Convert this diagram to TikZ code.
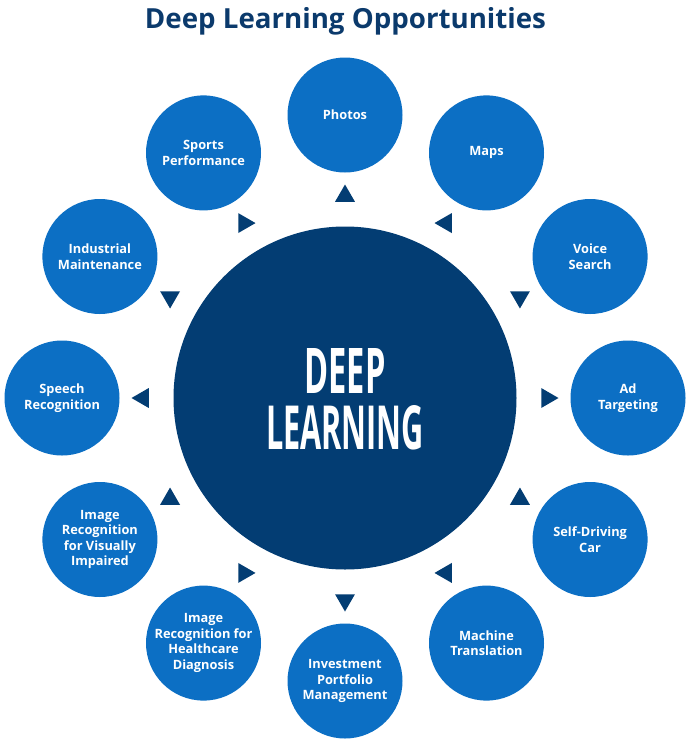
\documentclass[tikz,border=0pt]{standalone}
\usepackage{fontspec}
\setmainfont{Open Sans}
\usetikzlibrary{shapes.geometric}
\definecolor{brightblue}{HTML}{0C6FC4}
\definecolor{navy}{HTML}{033D73}
\definecolor{titleblue}{HTML}{0B3A6C}
\tikzset{
  outer/.style={circle, fill=brightblue, minimum size=115pt, inner sep=0pt, align=center,
    text=white, font=\fontsize{12.8}{15.5}\selectfont\bfseries},
  core/.style={circle, fill=navy, minimum size=343pt, inner sep=0pt},
  tri/.style={regular polygon, regular polygon sides=3, fill=navy, minimum size=23pt, inner sep=0pt, outer sep=0pt},
  bigword/.style={text=white, inner sep=0pt, anchor=base, font=\bfseries},
}
\begin{document}
\begin{tikzpicture}[x=1pt,y=-1pt]
\useasboundingbox (0,0) rectangle (691,742);
\fill[white] (0,0) rectangle (691,742);
\node[text=titleblue, inner sep=0pt, anchor=base] (title) at (345.5,28)
  {\resizebox{401pt}{!}{\bfseries Deep Learning Opportunities}};
\node[core] (core) at (345,398) {};
\node[bigword] (deep) at (345,393) {\resizebox{81pt}{45pt}{DEEP}};
\node[bigword] (learning) at (345,449) {\resizebox{158pt}{44pt}{LEARNING}};
\foreach \n/\a/\t in {
  photos/90/{Photos},
  maps/60/{Maps},
  voice/30/{Voice\\Search},
  ad/0/{Ad\\Targeting},
  car/-30/{Self-Driving\\Car},
  mt/-60/{Machine\\Translation},
  invest/-90/{Investment\\Portfolio\\Management},
  health/-120/{Image\\Recognition for\\Healthcare\\Diagnosis},
  visual/-150/{Image\\Recognition\\for Visually\\Impaired},
  speech/180/{Speech\\Recognition},
  industrial/150/{Industrial\\Maintenance},
  sports/120/{Sports\\Performance}}{
  \node[outer] (\n) at ({345+283*cos(\a)},{398-283*sin(\a)}) {\t};
}
\foreach \n/\a/\r in {
  tphotos/90/0, tmaps/60/90, tvoice/30/180, tad/0/-90,
  tcar/-30/0, tmt/-60/90, tinvest/-90/180, thealth/-120/-90,
  tvisual/-150/0, tspeech/180/90, tindustrial/150/180, tsports/120/-90}{
  \node[tri, rotate=\r] (\n) at ({345+202*cos(\a)},{398-202*sin(\a)}) {};
}
\end{tikzpicture}
\end{document}
